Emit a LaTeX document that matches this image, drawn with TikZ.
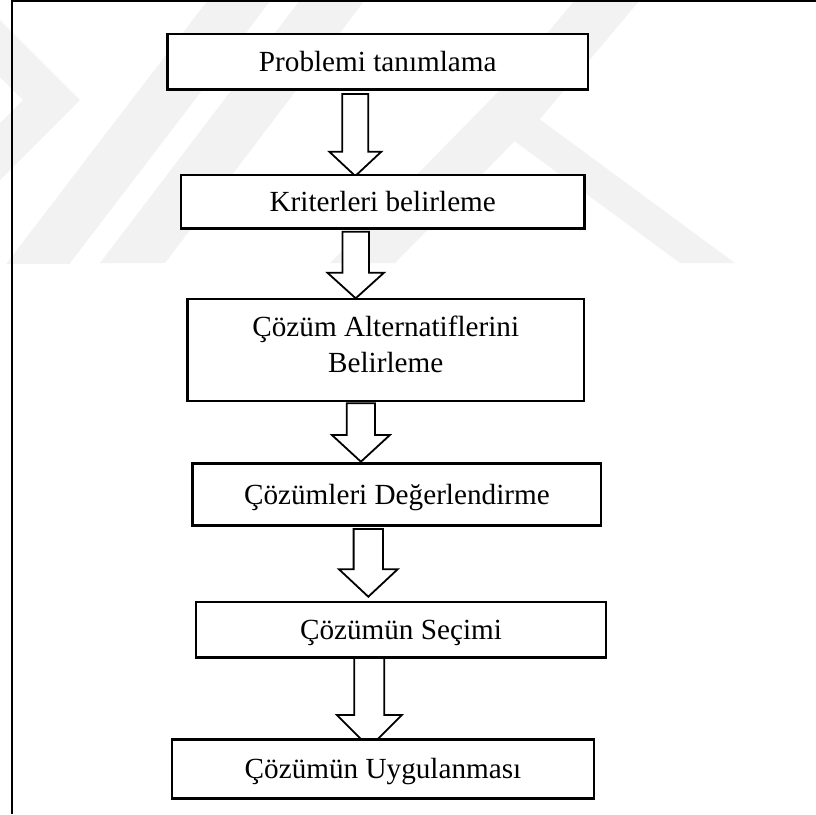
\documentclass[tikz,border=0pt]{standalone}
\usepackage{fontspec}
\setmainfont{Liberation Serif}
\usetikzlibrary{calc}

\pgfdeclarelayer{marklayer}
\pgfdeclarelayer{arrowlayer}
\pgfsetlayers{marklayer,arrowlayer,main}

\tikzset{
  flowbox/.style={draw=black, line width=1.7pt, fill=white, inner sep=0pt, outer sep=0pt,
    font=\fontsize{21.9}{27.4}\selectfont, text height=14.45pt, text depth=0pt},
  flowtext/.style={inner sep=0pt, outer sep=0pt, font=\fontsize{21.9}{27.4}\selectfont},
  blockarrow/.style={draw=black, line width=1.35pt, fill=white, line join=miter},
  framerule/.style={draw=black, line width=1.6pt},
  markband/.style={fill=black!5, draw=none}
}

% hollow block arrow from the bottom of #1 to the top of #2
% #3 centre x, #4 half shaft width, #5 half head width,
% #6 gap below #1, #7 head base above #2, #8 tip below top of #2 (all in px)
\newcommand\flowarrow[8]{%
  \begin{pgfonlayer}{arrowlayer}
  \draw[blockarrow] let \p1=(#1.south), \p2=(#2.north) in
    ({(#3-#4)*0.75pt},{\y1-#6*0.75pt}) --
    ({(#3-#4)*0.75pt},{\y2+#7*0.75pt}) --
    ({(#3-#5)*0.75pt},{\y2+#7*0.75pt}) --
    ({#3*0.75pt},{\y2-#8*0.75pt}) --
    ({(#3+#5)*0.75pt},{\y2+#7*0.75pt}) --
    ({(#3+#4)*0.75pt},{\y2+#7*0.75pt}) --
    ({(#3+#4)*0.75pt},{\y1-#6*0.75pt}) -- cycle;
  \end{pgfonlayer}}

\begin{document}
\begin{tikzpicture}[x=0.75pt,y=-0.75pt]
\useasboundingbox (0,0) rectangle (816,814);

% light background emblem in the upper half
\begin{pgfonlayer}{marklayer}
\begin{scope}
  \clip (0,0) rectangle (816,263);
  \fill[markband] (0,20) -- (80,100) -- (0,180) -- (0,123) -- (23,100) -- (0,77) -- cycle;
  \fill[markband] (208,0) -- (271,0) -- (0,355) -- (0,272) -- cycle;
  \fill[markband] (300,0) -- (365,0) -- (165,263) -- (100,263) -- cycle;
  \fill[markband] (330,263) -- (500,90) -- (735,263) -- (680,263) -- (514.6,141.2) -- (395,263) -- cycle;
  \fill[markband] (470,125) -- (575,0) -- (640,0) -- (535,125) -- cycle;
\end{scope}
\end{pgfonlayer}

% frame on the left and top
\coordinate (fl1) at (12,0);
\coordinate (fl2) at (12,814);
\coordinate (ft1) at (11,1.3);
\coordinate (ft2) at (816,1.3);
\draw[framerule] (fl1) -- (fl2);
\draw[framerule] (ft1) -- (ft2);

% process steps
\node[flowbox, minimum width=420.5*0.75pt, minimum height=55.3*0.75pt] (b1) at (377.75,61.85) {Problemi tanımlama};
\node[flowbox, minimum width=403.5*0.75pt, minimum height=53.2*0.75pt] (b2) at (382.75,201.9) {Kriterleri belirleme};
\node[flowbox, minimum width=396.5*0.75pt, minimum height=102.3*0.75pt] (b3) at (385.75,349.85) {};
\node[flowtext, anchor=base] (b3a) at (385.75,336.2) {Çözüm Alternatiflerini};
\node[flowtext, anchor=base] (b3b) at (385.75,372.7) {Belirleme};
\node[flowbox, minimum width=408.6*0.75pt, minimum height=61.9*0.75pt] (b4) at (396.9,494.55) {Çözümleri Değerlendirme};
\node[flowbox, minimum width=410*0.75pt, minimum height=55.6*0.75pt] (b5) at (401,629.6) {Çözümün Seçimi};
\node[flowbox, minimum width=422.6*0.75pt, minimum height=59*0.75pt] (b6) at (383,769) {Çözümün Uygulanması};

% connecting block arrows
\flowarrow{b1}{b2}{355.3}{13}{26}{4.5}{23.6}{0.7}
\flowarrow{b2}{b3}{355.7}{13.3}{28.3}{3.2}{26}{-0.4}
\flowarrow{b3}{b4}{360.9}{14.1}{29}{2.3}{28.6}{-1.9}
\flowarrow{b4}{b5}{368.3}{14.7}{29.3}{3.5}{32.5}{-5.1}
\flowarrow{b5}{b6}{369.3}{15}{32.5}{0.5}{24.5}{8}
\end{tikzpicture}
\end{document}
